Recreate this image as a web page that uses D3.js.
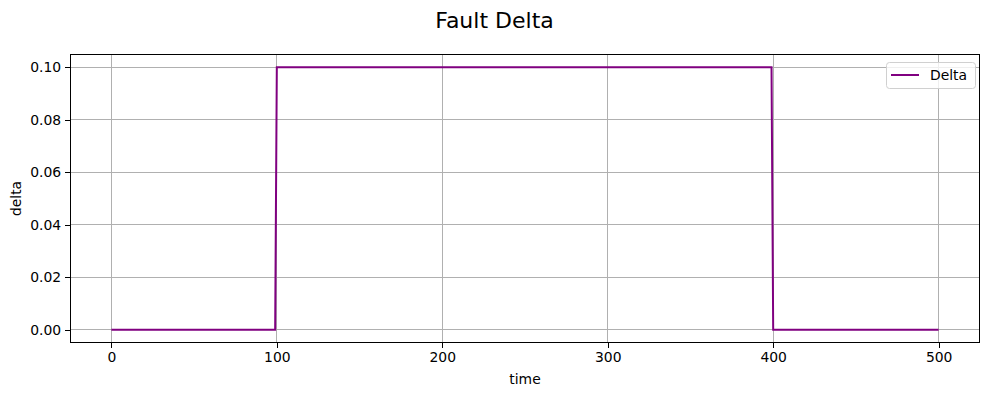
<!DOCTYPE html>
<html>
<head>
<meta charset="utf-8">
<script src="https://cdn.jsdelivr.net/npm/d3@7"></script>
<style>
  body { margin: 0; background: #fff; }
  svg { font-family: "DejaVu Sans", sans-serif; }
</style>
</head>
<body>
<svg id="chart" width="989" height="396"></svg>
<script>
// Step points of the fault delta (time, delta)
const times = [0, 99, 100, 399, 400, 500];
const deltas = [0, 0, 0.1, 0.1, 0, 0];
const xTicks = [0, 100, 200, 300, 400, 500];
const yTicks = [0, 0.02, 0.04, 0.06, 0.08, 0.1];

const margin = { top: 54, right: 9, bottom: 53, left: 70 };
const width = 989, height = 396;

const svg = d3.select("#chart");

const x = d3.scaleLinear()
  .domain([-25, 525])
  .range([margin.left, width - margin.right]);

const y = d3.scaleLinear()
  .domain([-0.005, 0.105])
  .range([height - margin.bottom, margin.top]);

// grid
const grid = svg.append("g").attr("stroke", "#b0b0b0").attr("stroke-width", 1)
  .attr("shape-rendering", "crispEdges");
grid.selectAll(".gx").data(xTicks).join("line")
  .attr("x1", d => x(d)).attr("x2", d => x(d))
  .attr("y1", margin.top).attr("y2", height - margin.bottom);
grid.selectAll(".gy").data(yTicks).join("line")
  .attr("x1", margin.left).attr("x2", width - margin.right)
  .attr("y1", d => y(d)).attr("y2", d => y(d));

// line
const data = times.map((t, i) => ({ t: t, v: deltas[i] }));
svg.append("path")
  .datum(data)
  .attr("fill", "none")
  .attr("stroke", "purple")
  .attr("stroke-width", 2)
  .attr("d", d3.line().x(d => x(d.t)).y(d => y(d.v)));

// axes
const xAxis = svg.append("g")
  .attr("transform", "translate(0," + (height - margin.bottom) + ")")
  .call(d3.axisBottom(x).tickValues(xTicks).tickSize(4.9).tickPadding(4).tickSizeOuter(0));
const yAxis = svg.append("g")
  .attr("transform", "translate(" + margin.left + ",0)")
  .call(d3.axisLeft(y).tickValues(yTicks).tickFormat(d3.format(".2f")).tickSize(4.9).tickPadding(4).tickSizeOuter(0));
[xAxis, yAxis].forEach(a => {
  a.select(".domain").remove();
  a.selectAll("text").attr("font-size", 13.9).attr("fill", "#000").attr("font-family", "DejaVu Sans");
  a.selectAll(".tick line").attr("stroke", "#000").attr("stroke-width", 1).attr("shape-rendering", "crispEdges");
});

// frame
svg.append("rect")
  .attr("x", margin.left + 0.5).attr("y", margin.top + 0.5)
  .attr("width", width - margin.left - margin.right - 1)
  .attr("height", height - margin.top - margin.bottom - 1)
  .attr("fill", "none").attr("stroke", "#000").attr("stroke-width", 1)
  .attr("shape-rendering", "crispEdges");

// labels
svg.append("text")
  .attr("x", (margin.left + width - margin.right) / 2).attr("y", 384)
  .attr("text-anchor", "middle").attr("font-size", 13.9).text("time");
svg.append("text")
  .attr("transform", "translate(21," + ((margin.top + height - margin.bottom) / 2) + ") rotate(-90)")
  .attr("text-anchor", "middle").attr("font-size", 13.9).text("delta");
svg.append("text")
  .attr("x", width / 2).attr("y", 28)
  .attr("text-anchor", "middle").attr("font-size", 22).text("Fault Delta");

// legend
const lg = svg.append("g");
lg.append("rect")
  .attr("x", 886.5).attr("y", 62.5).attr("width", 89).attr("height", 26).attr("rx", 3)
  .attr("fill", "#fff").attr("fill-opacity", 0.8).attr("stroke", "#d0d0d0");
lg.append("line")
  .attr("x1", 891).attr("x2", 919).attr("y1", 75).attr("y2", 75)
  .attr("stroke", "purple").attr("stroke-width", 2);
lg.append("text")
  .attr("x", 930).attr("y", 80).attr("font-size", 13.9).text("Delta");
</script>
</body>
</html>
